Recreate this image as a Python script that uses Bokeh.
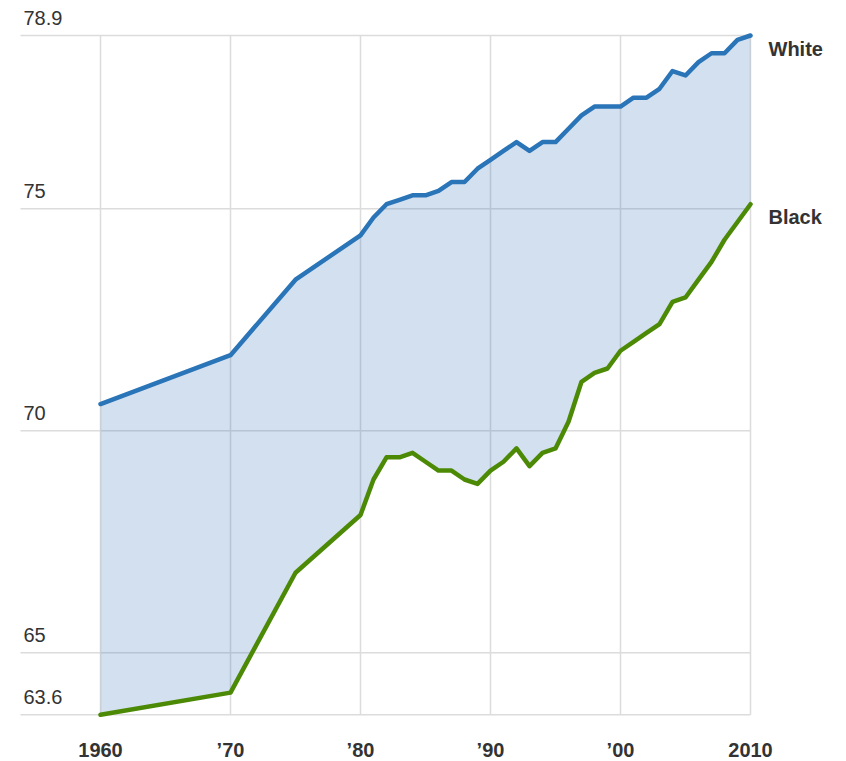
from bokeh.plotting import figure
from bokeh.models import Range1d, ColumnDataSource
from bokeh.core.properties import value
from bokeh.embed import file_html
from bokeh.resources import INLINE

# ---- data (life expectancy at birth) ----
years = [1960, 1970, 1975, 1980, 1981, 1982, 1983, 1984, 1985, 1986, 1987, 1988, 1989,
         1990, 1991, 1992, 1993, 1994, 1995, 1996, 1997, 1998, 1999, 2000, 2001, 2002,
         2003, 2004, 2005, 2006, 2007, 2008, 2009, 2010]
white = [70.6, 71.7, 73.4, 74.4, 74.8, 75.1, 75.2, 75.3, 75.3, 75.4, 75.6, 75.6, 75.9,
         76.1, 76.3, 76.5, 76.3, 76.5, 76.5, 76.8, 77.1, 77.3, 77.3, 77.3, 77.5, 77.5,
         77.7, 78.1, 78.0, 78.3, 78.5, 78.5, 78.8, 78.9]
black = [63.6, 64.1, 66.8, 68.1, 68.9, 69.4, 69.4, 69.5, 69.3, 69.1, 69.1, 68.9, 68.8,
         69.1, 69.3, 69.6, 69.2, 69.5, 69.6, 70.2, 71.1, 71.3, 71.4, 71.8, 72.0, 72.2,
         72.4, 72.9, 73.0, 73.4, 73.8, 74.3, 74.7, 75.1]
series_names = ["White", "Black"]

x_ticks = [1960, 1970, 1980, 1990, 2000, 2010]
x_tick_labels = ["1960", "\u201970", "\u201980", "\u201990", "\u201900", "2010"]
y_ticks = [63.6, 65, 70, 75, 78.9]
y_tick_labels = ["63.6", "65", "70", "75", "78.9"]

# ---- layout (pixel scale of the frame) ----
W, H = 840, 761
px_per_year = 13.0
px_per_unit = 44.4
x0 = x_ticks[0] - 100 / px_per_year
x1 = x0 + W / px_per_year
y1 = y_ticks[-1] + 35 / px_per_unit
y0 = y1 - H / px_per_unit
grid_left = x0 + 20 / px_per_year

FONT = value("Liberation Sans")
TXT = "#333333"
BLUE = "#2a74b8"
GREEN = "#4c8a06"
GRID = "#dcdcdc"

p = figure(width=W, height=H, x_range=Range1d(x0, x1), y_range=Range1d(y0, y1),
           x_axis_location=None, y_axis_location=None, min_border=0,
           toolbar_location=None, output_backend="svg")
p.grid.visible = False
p.outline_line_color = None
p.background_fill_color = "white"
p.border_fill_color = "white"

# grid lines
ymin, ymax = min(y_ticks), max(y_ticks)
p.segment(x0=[grid_left] * len(y_ticks), y0=y_ticks, x1=[x_ticks[-1]] * len(y_ticks), y1=y_ticks,
          line_color=GRID, line_width=1.5)
p.segment(x0=x_ticks, y0=[ymin] * len(x_ticks), x1=x_ticks, y1=[ymax] * len(x_ticks),
          line_color=GRID, line_width=1.5)

src = ColumnDataSource(dict(year=years, white=white, black=black))

# gap area
p.varea(x="year", y1="black", y2="white", source=src, fill_color="#2364af", fill_alpha=0.2)

# lines
p.line(x="year", y="white", source=src, line_color=BLUE, line_width=4.5,
       line_join="round", line_cap="round")
p.line(x="year", y="black", source=src, line_color=GREEN, line_width=4.5,
       line_join="round", line_cap="round")

# y tick labels (above grid lines, at left)
p.text(x=[grid_left] * len(y_ticks), y=y_ticks, text=y_tick_labels,
       text_align="left", text_baseline="alphabetic", x_offset=3, y_offset=-18,
       text_font=FONT, text_font_size="20px", text_color=TXT)

# x tick labels
p.text(x=x_ticks, y=[ymin] * len(x_ticks), text=x_tick_labels,
       text_align="center", text_baseline="middle", y_offset=35,
       text_font=FONT, text_font_size="20px", text_font_style="bold", text_color=TXT)

# series labels
p.text(x=[years[-1]] * 2, y=[white[-1], black[-1]], text=series_names,
       text_align="left", text_baseline="middle", x_offset=18, y_offset=13,
       text_font=FONT, text_font_size="20px", text_font_style="bold", text_color=TXT)

open("out.html", "w").write(file_html(p, INLINE))
